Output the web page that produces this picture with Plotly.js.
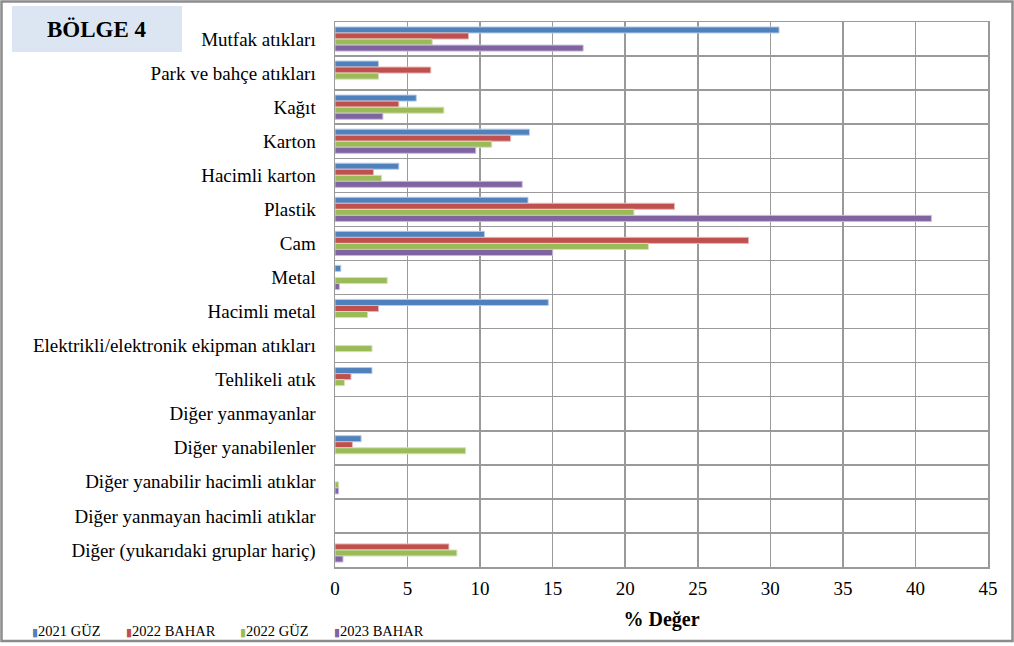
<!DOCTYPE html>
<html>
<head>
<meta charset="utf-8">
<script src="https://cdn.plot.ly/plotly-3.0.1.min.js"></script>
<style>
  html, body { margin: 0; padding: 0; background: #fff; }
  #chart { width: 1014px; height: 646px; }
</style>
</head>
<body>
<div id="chart"></div>
<script>
// Waste composition categories (top to bottom)
const categories = [
  "Mutfak atıkları",
  "Park ve bahçe atıkları",
  "Kağıt",
  "Karton",
  "Hacimli karton",
  "Plastik",
  "Cam",
  "Metal",
  "Hacimli metal",
  "Elektrikli/elektronik ekipman atıkları",
  "Tehlikeli atık",
  "Diğer yanmayanlar",
  "Diğer yanabilenler",
  "Diğer yanabilir hacimli atıklar",
  "Diğer yanmayan hacimli atıklar",
  "Diğer (yukarıdaki gruplar hariç)"
];

const seriesNames = ["2021 GÜZ", "2022 BAHAR", "2022 GÜZ", "2023 BAHAR"];

// Share (%) per category for each sampling period
const guz2021   = [30.6, 3.0, 5.6, 13.4, 4.4, 13.3, 10.3, 0.4, 14.7, null, 2.55, null, 1.8, null, null, null];
const bahar2022 = [9.2, 6.6, 4.4, 12.1, 2.65, 23.4, 28.5, null, 3.0, null, 1.1, null, 1.2, null, null, 7.85];
const guz2022   = [6.7, 3.0, 7.5, 10.8, 3.2, 20.6, 21.6, 3.6, 2.25, 2.55, 0.65, null, 9.0, 0.25, null, 8.4];
const bahar2023 = [17.1, null, 3.3, 9.7, 12.9, 41.1, 15.0, 0.3, null, null, null, null, null, 0.25, null, 0.55];

const seriesValues = [guz2021, bahar2022, guz2022, bahar2023];
const fillColors = ["#4F81BD", "#C0504D", "#9BBB59", "#8064A2"];
const edgeColors = ["#B7CBE6", "#E6B5B4", "#D3E2B6", "#C7BAD9"];

const xTicks = [0, 5, 10, 15, 20, 25, 30, 35, 40, 45];

const serif = "Liberation Serif";

const traces = seriesNames.map((name, i) => ({
  type: "bar",
  orientation: "h",
  name: name,
  y: categories,
  x: seriesValues[i],
  marker: { color: fillColors[i], line: { color: edgeColors[i], width: 1 } },
  hoverinfo: "name+x"
}));

// Pixel helpers for placing shapes/annotations around the plot area
const W = 1014, H = 646;
const L = 335, R = 26, T = 22, B = 79;
const pw = W - L - R, ph = H - T - B;
const px = x => (x - L) / pw;
const py = y => 1 - (y - T) / ph;

// Compact legend row along the bottom-left edge
const legendStarts = [30, 124, 238, 332];
const legendNotes = seriesNames.map((name, i) => ({
  xref: "paper", yref: "paper",
  x: px(legendStarts[i]), y: py(631),
  xanchor: "left", yanchor: "middle",
  showarrow: false,
  text: '<span style="color:' + fillColors[i] + ';font-family:DejaVu Sans;font-size:11px">▮</span>' + name,
  font: { family: serif, size: 14.5, color: "#000" }
}));

const layout = {
  width: W,
  height: H,
  margin: { l: L, r: R, t: T, b: B, pad: 0 },
  paper_bgcolor: "#ffffff",
  plot_bgcolor: "#ffffff",
  barmode: "group",
  bargap: 0.29,
  bargroupgap: 0,
  font: { family: serif, color: "#000000", size: 19 },
  showlegend: false,
  xaxis: {
    range: [0, 45],
    tickvals: xTicks,
    ticktext: xTicks.map(String),
    automargin: false,
    showgrid: true,
    gridcolor: "#9A9A9A",
    gridwidth: 1.5,
    zeroline: false,
    showline: true,
    linecolor: "#9A9A9A",
    linewidth: 1.5,
    mirror: true,
    ticks: "",
    ticklabelstandoff: 4,
    tickfont: { family: serif, size: 19, color: "#000" },
    title: {
      text: "<b>% Değer</b>",
      font: { family: serif, size: 20, color: "#000" },
      standoff: 13
    },
    fixedrange: true
  },
  yaxis: {
    type: "category",
    autorange: "reversed",
    automargin: false,
    tickson: "boundaries",
    showgrid: true,
    gridcolor: "#9A9A9A",
    gridwidth: 1.5,
    showline: true,
    linecolor: "#9A9A9A",
    linewidth: 1.5,
    mirror: true,
    ticks: "",
    ticklabelstandoff: 14,
    tickfont: { family: serif, size: 19, color: "#000" },
    fixedrange: true
  },
  shapes: [
    // region label box
    {
      type: "rect", xref: "paper", yref: "paper", layer: "below",
      x0: px(12), x1: px(182), y0: py(52), y1: py(6),
      fillcolor: "#DCE6F2", line: { width: 0 }
    },
    // outer chart frame
    {
      type: "rect", xref: "paper", yref: "paper",
      x0: px(1.5), x1: px(1012.5), y0: py(641), y1: py(1.5),
      fillcolor: "rgba(0,0,0,0)", line: { color: "#8C8C8C", width: 2.5 }
    }
  ],
  annotations: [
    {
      xref: "paper", yref: "paper",
      x: px(97), y: py(29),
      xanchor: "center", yanchor: "middle",
      text: "<b>BÖLGE 4</b>",
      showarrow: false,
      font: { family: serif, size: 23, color: "#000" }
    }
  ].concat(legendNotes)
};

Plotly.newPlot("chart", traces, layout, { displayModeBar: false, staticPlot: true });
</script>
</body>
</html>
